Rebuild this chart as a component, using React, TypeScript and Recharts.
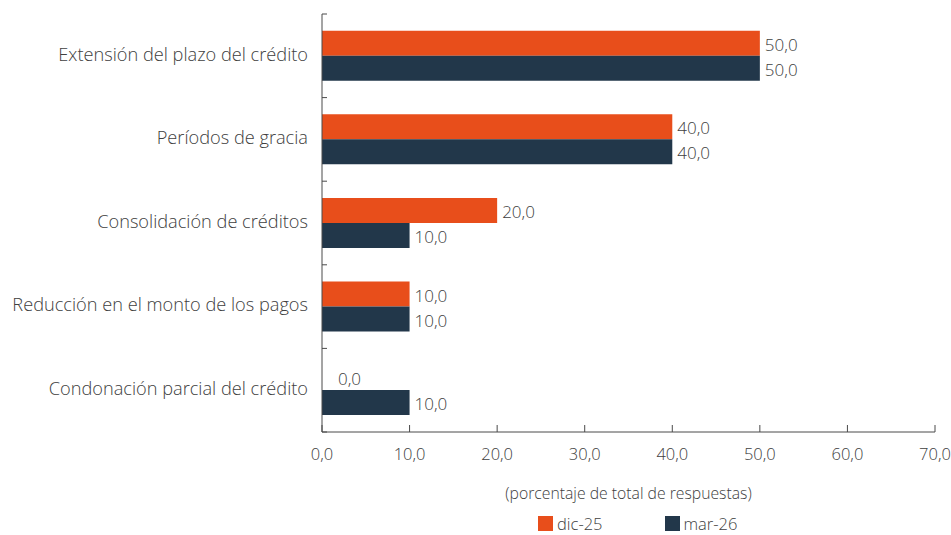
import { BarChart, Bar, XAxis, YAxis, Legend, LabelList } from 'recharts';

const categories = [
  'Extensión del plazo del crédito',
  'Períodos de gracia',
  'Consolidación de créditos',
  'Reducción en el monto de los pagos',
  'Condonación parcial del crédito',
];
const dic25 = [50, 40, 20, 10, 0];
const mar26 = [50, 40, 10, 10, 10];
const xTicks = [0, 10, 20, 30, 40, 50, 60, 70];

const SERIES = [
  { key: 'dic25', name: 'dic-25', color: '#E84E1B' },
  { key: 'mar26', name: 'mar-26', color: '#22374A' },
];

const data = categories.map((c, i) => ({ name: c, dic25: dic25[i], mar26: mar26[i] }));

const W = 951;
const H = 535;
const MARGIN = { top: 14, right: 16, left: 0, bottom: 0 };
const X_AXIS_H = 103;
const BAND = (H - MARGIN.top - MARGIN.bottom - X_AXIS_H) / categories.length;
const TEXT = '#404040';
const AXIS = '#4a4a4a';
const FONT = '"Open Sans", "Noto Sans", sans-serif';

const fmt = (v: number) => v.toFixed(1).replace('.', ',');

function CategoryTick(props: any) {
  const { x, y, payload, index } = props;
  return (
    <g>
      <line x1={x} x2={x + 5} y1={y - BAND / 2} y2={y - BAND / 2} stroke={AXIS} strokeWidth={1} />
      {index === categories.length - 1 && (
        <line x1={x} x2={x + 5} y1={y + BAND / 2} y2={y + BAND / 2} stroke={AXIS} strokeWidth={1} />
      )}
      <text x={x - 14} y={y} textAnchor="end" dominantBaseline="middle" fill={TEXT} fontSize={18.2} fontWeight={300} fontFamily={FONT}>
        {payload.value}
      </text>
    </g>
  );
}

function ValueTick(props: any) {
  const { x, y, payload } = props;
  return (
    <g>
      <line x1={x} x2={x} y1={y} y2={y - 7} stroke={AXIS} strokeWidth={1} />
      <text x={x} y={y + 24} textAnchor="middle" dominantBaseline="middle" fill={TEXT} fontSize={16.5} fontWeight={300} fontFamily={FONT}>
        {fmt(payload.value)}
      </text>
    </g>
  );
}

function BarValue(props: any) {
  const { x, y, width, height, value } = props;
  const pad = value === 0 ? 16 : 5;
  return (
    <text x={x + width + pad} y={y + height / 2 + 3} dominantBaseline="middle" fill={TEXT} fontSize={17} fontWeight={300} fontFamily={FONT}>
      {fmt(value)}
    </text>
  );
}

function AxisTitle(props: any) {
  const { viewBox } = props;
  return (
    <text x={viewBox.x + viewBox.width / 2} y={viewBox.y + 63} textAnchor="middle" dominantBaseline="middle" fill={TEXT} fontSize={15.75} fontWeight={300} fontFamily={FONT}>
      (porcentaje de total de respuestas)
    </text>
  );
}

function LegendContent() {
  return (
    <div style={{ display: 'flex', paddingLeft: 538, fontFamily: FONT, fontSize: 16.5, fontWeight: 300, color: TEXT, lineHeight: '15px' }}>
      {SERIES.map((s, i) => (
        <div key={s.key} style={{ display: 'flex', alignItems: 'center', marginRight: i === 0 ? 62 : 0 }}>
          <span style={{ width: 15, height: 15, background: s.color, display: 'inline-block', marginRight: 4 }} />
          <span>{s.name}</span>
        </div>
      ))}
    </div>
  );
}

export default function App() {
  return (
    <div style={{ position: 'absolute', left: 0, top: 0, width: W, height: H, background: '#fff' }}>
      <BarChart width={W} height={H} data={data} layout="vertical" margin={MARGIN} barCategoryGap="20%" barGap={0}>
        <XAxis
          type="number"
          domain={[0, 70]}
          ticks={xTicks}
          height={X_AXIS_H}
          tickSize={0}
          tickMargin={0}
          tick={<ValueTick />}
          axisLine={{ stroke: AXIS, strokeWidth: 1 }}
          label={<AxisTitle />}
        />
        <YAxis
          type="category"
          dataKey="name"
          width={322}
          tickSize={0}
          tickMargin={0}
          tick={<CategoryTick />}
          axisLine={{ stroke: AXIS, strokeWidth: 1 }}
          interval={0}
        />
        <Legend
          layout="horizontal"
          verticalAlign="middle"
          align="center"
          wrapperStyle={{ top: 516, left: 0, width: W }}
          content={<LegendContent />}
        />
        {SERIES.map((s) => (
          <Bar
            key={s.key}
            dataKey={s.key}
            name={s.name}
            fill={s.color}
            minPointSize={(v: number) => (v === 0 ? 0.01 : 0)}
            isAnimationActive={false}
          >
            <LabelList dataKey={s.key} content={<BarValue />} />
          </Bar>
        ))}
      </BarChart>
    </div>
  );
}
